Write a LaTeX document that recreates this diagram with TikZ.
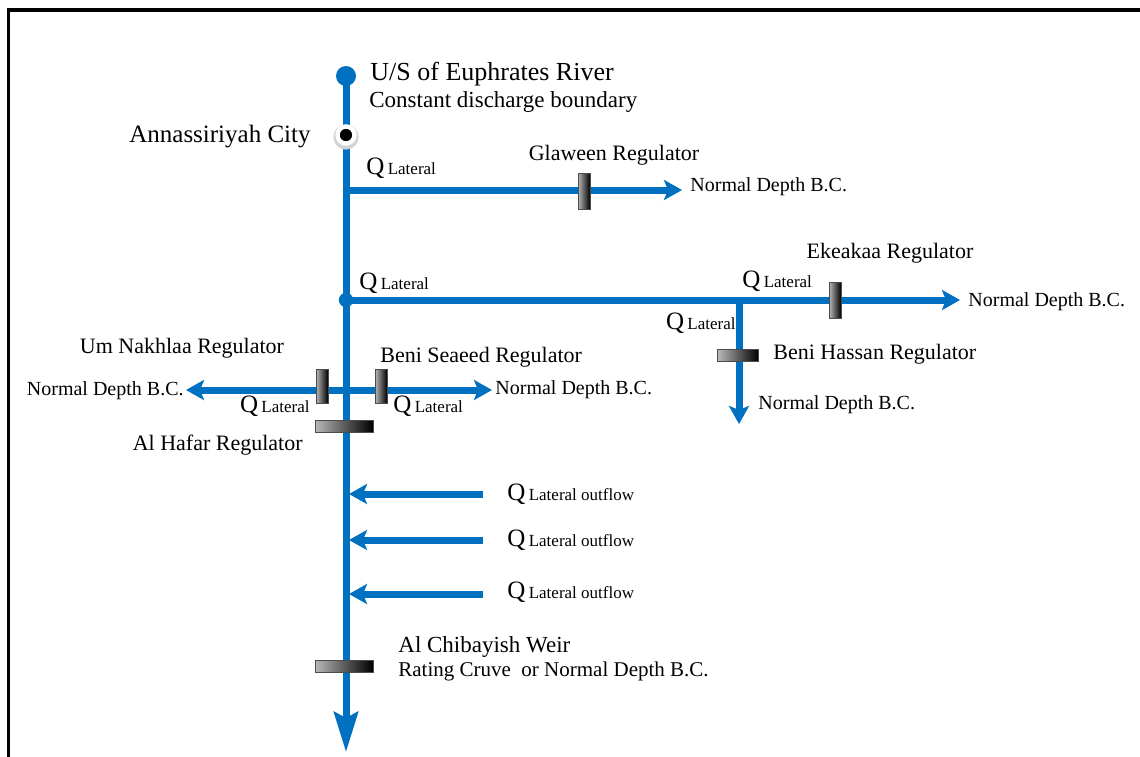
\documentclass[tikz,border=0pt]{standalone}
\usepackage{fontspec}
\setmainfont{Liberation Serif}
\usetikzlibrary{positioning,arrows.meta}
\definecolor{rivblue}{RGB}{0,112,192}
\newcommand{\qlab}[1]{{\fontsize{12.5}{14}\selectfont Q}\,{\fontsize{8.5}{10}\selectfont #1}}

\begin{document}
\begin{tikzpicture}
[
  x=0.5pt, y=-0.5pt,
  river/.style={draw=rivblue, line width=3.5pt},
  flow/.style={river, -{Stealth[length=9pt,width=10pt,inset=2pt]}},
  vgate/.style={rectangle, minimum width=6pt, minimum height=18pt, inner sep=0pt,
    left color=gray!55, right color=black, draw=gray!60!black, line width=0.3pt},
  hgate/.style={rectangle, minimum width=29pt, minimum height=6pt, inner sep=0pt,
    left color=gray!55, right color=black, draw=gray!60!black, line width=0.3pt},
  reg/.style={font=\fontsize{11}{13}\selectfont, inner sep=1pt},
  bc/.style={font=\fontsize{10}{12}\selectfont, inner sep=1pt},
  ql/.style={inner sep=1pt}
]
 \useasboundingbox (0,0) rectangle (1140,756);
 \draw[line width=1.8pt] (8.5,10) rectangle (1170,790);

 % points on the river
 \node[circle,fill=rivblue,minimum size=10pt,inner sep=0pt] (us) at (346,76) {};
 \coordinate (dn) at (346,752);
 \coordinate (jn1) at (346,190);
 \coordinate (jn2) at (346,300);
 \coordinate (jn3) at (739,300);
 \coordinate (jn4) at (346,390);
 \coordinate (e1) at (682,190);
 \coordinate (e2) at (960,300);
 \coordinate (e3) at (739,424);
 \coordinate (e4) at (186,390);
 \coordinate (e5) at (492,390);
 \coordinate (s1) at (483,494);
 \coordinate (t1) at (349,494);
 \coordinate (s2) at (483,540);
 \coordinate (t2) at (349,540);
 \coordinate (s3) at (483,594);
 \coordinate (t3) at (349,594);

 % channels
 \draw[river,-{Stealth[length=20pt,width=12pt,inset=3pt]}] (us.center) -- (dn);
 \draw[flow] (jn1) -- (e1);
 \draw[flow] (jn2) -- (e2);
 \draw[flow] (jn3) -- (e3);
 \draw[flow] (jn4) -- (e4);
 \draw[flow] (jn4) -- (e5);
 \draw[flow] (s1) -- (t1);
 \draw[flow] (s2) -- (t2);
 \draw[flow] (s3) -- (t3);
 \fill[rivblue] (jn2) circle (3.6pt);

 % city
 \node[circle,fill=gray!35,minimum size=12.6pt,inner sep=0pt] (ring) at (346,137) {};
 \node[circle,fill=black,draw=white,line width=2.2pt,minimum size=8.5pt,inner sep=0pt] (city) at (346,135) {};

 % regulators
 \node[vgate] (gw) at (584,191) {};
 \node[vgate] (ek) at (835,300) {};
 \node[hgate,minimum width=20.5pt] (bh) at (738,355) {};
 \node[vgate,minimum height=17pt] (un) at (322,386) {};
 \node[vgate,minimum height=17pt] (bs) at (381,386) {};
 \node[hgate] (ah) at (344,426) {};
 \node[hgate] (cw) at (344,666) {};

 % labels
 \node[anchor=west,inner sep=1pt,font=\fontsize{13}{15}\selectfont] (usl) at (368,74) {U/S of Euphrates River};
 \node[anchor=west,inner sep=1pt,font=\fontsize{11.5}{14}\selectfont] (usb) at (367,102) {Constant discharge boundary};
 \node[anchor=east,inner sep=1pt,font=\fontsize{12.5}{15}\selectfont] (cityl) at (313,137) {Annassiriyah City};

 \node[reg] (gwl) at (614,155) {Glaween Regulator};
 \node[ql,anchor=west] (q1) at (364,168) {\qlab{Lateral}};
 \node[bc,anchor=west] (bc1) at (688,187) {Normal Depth B.C.};

 \node[ql,anchor=west] (q2) at (357,283) {\qlab{Lateral}};
 \node[reg] (ekl) at (890,253) {Ekeakaa Regulator};
 \node[ql,anchor=west] (q3) at (740,281) {\qlab{Lateral}};
 \node[bc,anchor=west] (bc2) at (966,302) {Normal Depth B.C.};

 \node[ql,anchor=east] (q4) at (738,323) {\qlab{Lateral}};
 \node[reg,anchor=west] (bhl) at (771,354) {Beni Hassan Regulator};
 \node[bc,anchor=west] (bc3) at (756,405) {Normal Depth B.C.};

 \node[reg] (unl) at (182,348) {Um Nakhlaa Regulator};
 \node[reg,anchor=west] (bsl) at (378,357) {Beni Seaeed Regulator};
 \node[bc,anchor=east] (bc4) at (186,391) {Normal Depth B.C.};
 \node[bc,anchor=west] (bc5) at (493,390) {Normal Depth B.C.};
 \node[ql,anchor=east] (q5) at (312,406) {\qlab{Lateral}};
 \node[ql,anchor=west] (q6) at (391,406) {\qlab{Lateral}};
 \node[reg,anchor=east] (ahl) at (305,445) {Al Hafar Regulator};

 \node[ql,anchor=west] (q7) at (505,494) {\qlab{Lateral outflow}};
 \node[ql,anchor=west] (q8) at (505,540) {\qlab{Lateral outflow}};
 \node[ql,anchor=west] (q9) at (505,592) {\qlab{Lateral outflow}};

 \node[reg,anchor=west,font=\fontsize{11.5}{14}\selectfont] (cwl) at (396,647) {Al Chibayish Weir};
 \node[bc,anchor=west,font=\fontsize{10.5}{12}\selectfont] (cwb) at (396,671) {Rating Cruve\ \ or Normal Depth B.C.};
\end{tikzpicture}
\end{document}
